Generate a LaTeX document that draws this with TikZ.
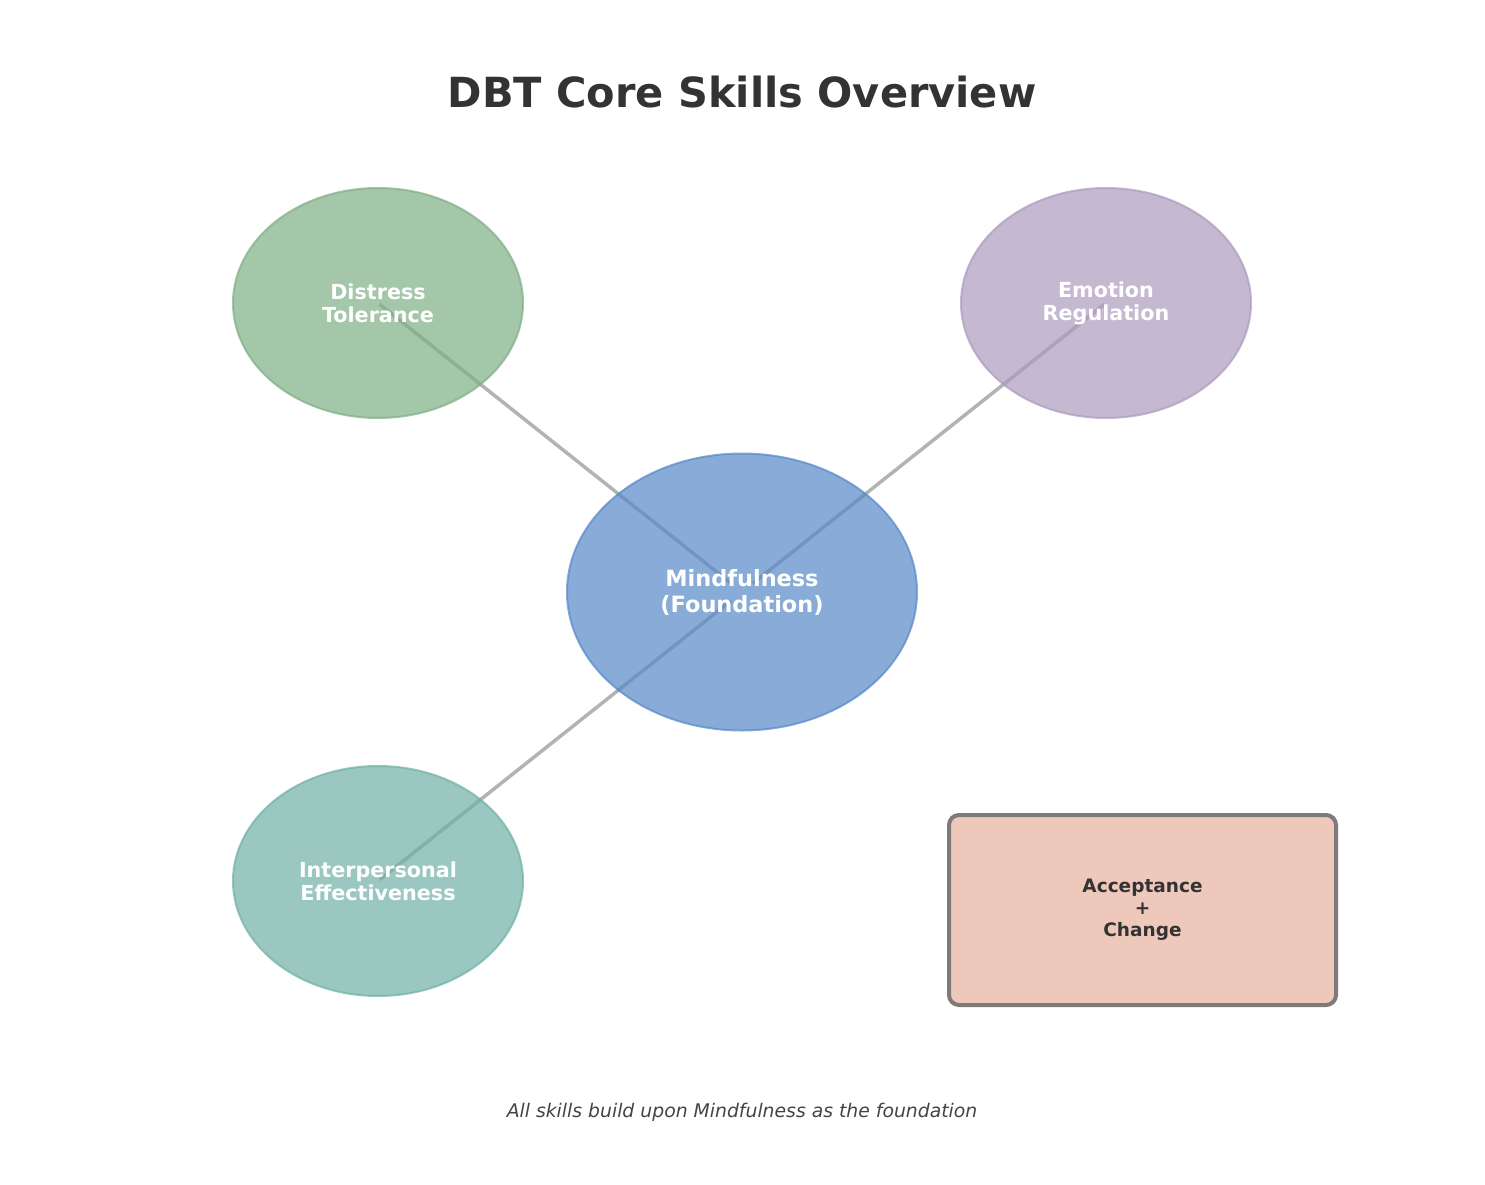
\documentclass[tikz,border=0pt]{standalone}
\usepackage{fontspec}
\setmainfont{DejaVu Sans}
\usetikzlibrary{shapes.geometric,backgrounds}
\definecolor{titlec}{HTML}{333333}
\definecolor{footc}{HTML}{444444}
\definecolor{greenc}{HTML}{7EAE84}
\definecolor{purplec}{HTML}{AC9ABD}
\definecolor{bluec}{HTML}{5688C7}
\definecolor{tealc}{HTML}{6FB0A6}
\definecolor{connc}{HTML}{B3B3B3}
\definecolor{boxfill}{HTML}{EEC9BB}
\definecolor{boxdraw}{HTML}{7F7979}
\tikzset{
  skill/.style={ellipse, inner sep=0pt, line width=2pt, fill opacity=0.7, draw opacity=0.7, text opacity=1,
    text=white, align=center, font=\bfseries\fontsize{20.7}{23}\selectfont,
    minimum width=290pt, minimum height=230pt},
  conn/.style={draw=connc, line width=3.5pt, shorten >=14pt, shorten <=2pt},
  notebox/.style={rectangle, rounded corners=10pt, draw=boxdraw, fill=boxfill, line width=4pt,
    minimum width=387pt, minimum height=190pt, align=center, text=titlec,
    font=\bfseries\fontsize{18.5}{22}\selectfont}
}
\begin{document}
\begin{tikzpicture}[x=1pt,y=-1pt]
\useasboundingbox (0,0) rectangle (1485,1185);
\node[font=\bfseries\fontsize{41.5}{48}\selectfont, text=titlec] (title) at (742,92) {DBT Core Skills Overview};
\node[skill, fill=bluec, draw=bluec, minimum width=350pt, minimum height=277pt,
  font=\bfseries\fontsize{22.4}{26}\selectfont] (mf) at (742,592) {Mindfulness\\(Foundation)};
\node[skill, fill=greenc, draw=greenc] (dt) at (378,303) {Distress\\Tolerance};
\node[skill, fill=purplec, draw=purplec] (er) at (1106,303) {Emotion\\Regulation};
\node[skill, fill=tealc, draw=tealc] (ie) at (378,881) {Interpersonal\\Effectiveness};
\begin{scope}[on background layer]
\draw[conn] (dt.center) -- (mf.center);
\draw[conn] (er.center) -- (mf.center);
\draw[conn] (ie.center) -- (mf.center);
\end{scope}
\node[notebox] (ac) at (1142.5,910) {Acceptance\\+\\Change};
\node[font=\itshape\fontsize{18.8}{22}\selectfont, text=footc] (foot) at (742,1112) {All skills build upon Mindfulness as the foundation};
\end{tikzpicture}
\end{document}
